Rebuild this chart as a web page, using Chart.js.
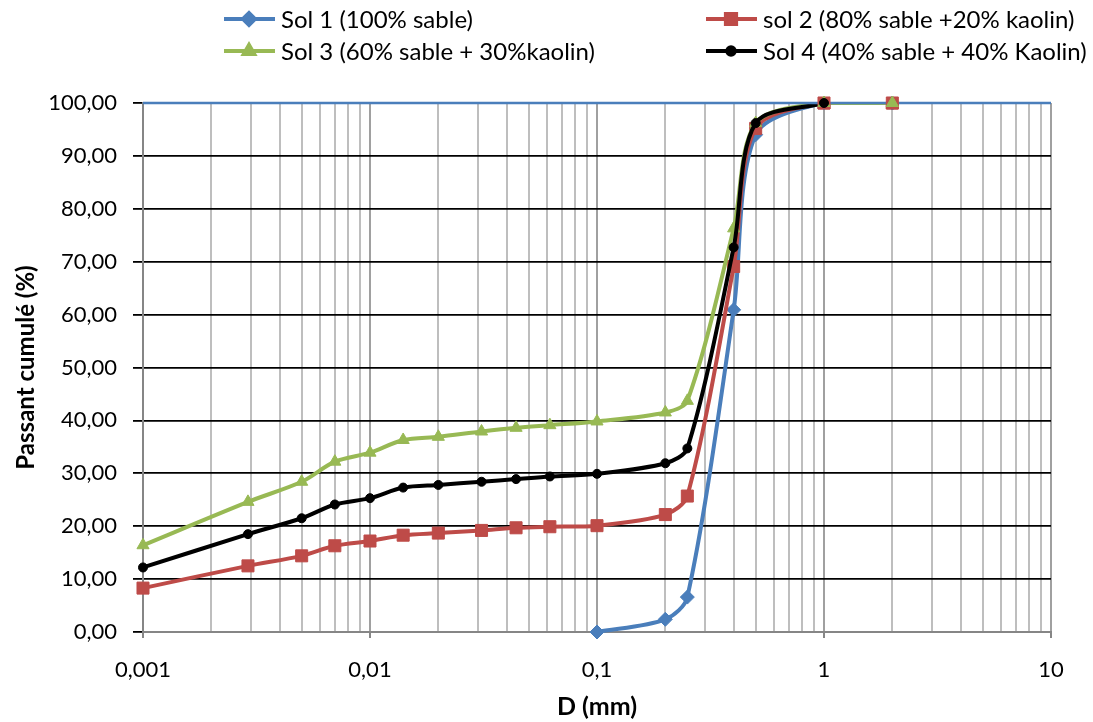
<!DOCTYPE html>
<html>
<head>
<meta charset="utf-8">
<script src="https://cdn.jsdelivr.net/npm/chart.js@4.4.0/dist/chart.umd.min.js"></script>
<style>
  html, body { margin: 0; padding: 0; background: #fff; }
  #wrap { width: 1093px; height: 722px; }
</style>
</head>
<body>
<div id="wrap"><canvas id="granuloChart" width="1093" height="722"></canvas></div>
<script>
// diamètres (mm) et passants cumulés (%)
const diamSol1 = [0.1, 0.2, 0.25, 0.4, 0.5, 1, 2];
const sol1 = [0, 2.4, 6.6, 60.9, 94.0, 100, 100];

const diamSol23 = [0.001, 0.0029, 0.005, 0.007, 0.01, 0.014, 0.02, 0.031, 0.044, 0.062, 0.1, 0.2, 0.25, 0.4, 0.5, 1, 2];
const sol2 = [8.3, 12.5, 14.4, 16.3, 17.2, 18.3, 18.7, 19.2, 19.7, 19.9, 20.1, 22.2, 25.7, 69.1, 95.2, 100, 100];
const sol3 = [16.4, 24.6, 28.4, 32.2, 33.9, 36.3, 36.9, 37.9, 38.6, 39.1, 39.8, 41.5, 43.7, 76.3, 96.2, 100, 100];

const diamSol4 = [0.001, 0.0029, 0.005, 0.007, 0.01, 0.014, 0.02, 0.031, 0.044, 0.062, 0.1, 0.2, 0.25, 0.4, 0.5, 1];
const sol4 = [12.2, 18.5, 21.5, 24.1, 25.3, 27.3, 27.8, 28.4, 28.9, 29.4, 29.9, 31.9, 34.7, 72.7, 96.2, 100];

const seriesLabels = [
    'Sol 1 (100% sable)',
    'sol 2 (80% sable +20% kaolin)',
    'Sol 3 (60% sable + 30%kaolin)',
    'Sol 4 (40% sable + 40% Kaolin)'
];

const xTickLabels = ['0,001', '0,01', '0,1', '1', '10'];
const xDecades = [0.001, 0.01, 0.1, 1, 10];

const FONT = 'Lato, "Open Sans", sans-serif';

const toPoints = (xs, ys) => xs.map((x, i) => ({ x: x, y: ys[i] }));

// grille log : 1..9 par décade
const xGrid = [];
xDecades.forEach((d, i) => {
    if (i === xDecades.length - 1) { xGrid.push(d); return; }
    for (let s = 1; s <= 9; s++) xGrid.push(+(s * d).toPrecision(6));
});

const isDecade = v => xDecades.some(d => Math.abs(v - d) / d < 1e-6);

// bord haut bleu par-dessus les courbes, puis les marqueurs posés sur ce bord
const topEdgePlugin = {
    id: 'topEdge',
    afterDatasetsDraw(chart) {
        const { ctx, chartArea } = chart;
        ctx.save();
        ctx.strokeStyle = '#4a7ebb';
        ctx.lineWidth = 2.5;
        ctx.beginPath();
        ctx.moveTo(chartArea.left, chartArea.top);
        ctx.lineTo(chartArea.right, chartArea.top);
        ctx.stroke();
        const bigArea = { left: 0, top: 0, right: chart.width, bottom: chart.height };
        chart.data.datasets.forEach((ds, i) => {
            chart.getDatasetMeta(i).data.forEach(pt => {
                if (pt.y <= chartArea.top + 1) pt.draw(ctx, bigArea);
            });
        });
        ctx.restore();
    }
};

const legendPlugin = {
    id: 'twoColLegend',
    afterDraw(chart) {
        const ctx = chart.ctx;
        const cols = [224, 706];
        const rows = [19, 51];
        chart.data.datasets.forEach((ds, i) => {
            const x = cols[i % 2];
            const y = rows[Math.floor(i / 2)];
            ctx.save();
            ctx.strokeStyle = ds.borderColor;
            ctx.lineWidth = 4;
            ctx.beginPath();
            ctx.moveTo(x, y);
            ctx.lineTo(x + 51, y);
            ctx.stroke();
            ctx.fillStyle = ds.borderColor;
            Chart.helpers.drawPoint(ctx, {
                pointStyle: ds.pointStyle,
                radius: ds.pointRadius * 0.85,
                borderWidth: 1,
                rotation: 0
            }, x + 25, y);
            ctx.fillStyle = '#000';
            ctx.font = '24px ' + FONT;
            ctx.textBaseline = 'middle';
            ctx.fillText(ds.label, x + 57, y + 1);
            ctx.restore();
        });
    }
};

const ctx = document.getElementById('granuloChart').getContext('2d');
new Chart(ctx, {
    type: 'line',
    data: {
        datasets: [
            {
                label: seriesLabels[0],
                data: toPoints(diamSol1, sol1),
                borderColor: '#4a7ebb',
                backgroundColor: '#4a7ebb',
                pointStyle: 'rectRot',
                pointRadius: 7,
                order: 3
            },
            {
                label: seriesLabels[1],
                data: toPoints(diamSol23, sol2),
                borderColor: '#be4b48',
                backgroundColor: '#be4b48',
                pointStyle: 'rect',
                pointRadius: 8.5,
                order: 2
            },
            {
                label: seriesLabels[2],
                data: toPoints(diamSol23, sol3),
                borderColor: '#98b954',
                backgroundColor: '#98b954',
                pointStyle: 'triangle',
                pointRadius: 7,
                order: 1
            },
            {
                label: seriesLabels[3],
                data: toPoints(diamSol4, sol4),
                borderColor: '#000000',
                backgroundColor: '#000000',
                pointStyle: 'circle',
                pointRadius: 4.5,
                order: 0
            }
        ]
    },
    options: {
        responsive: false,
        animation: false,
        datasets: {
            line: {
                borderWidth: 4,
                tension: 0.3,
                pointBorderWidth: 1,
                clip: { left: false, top: 0, right: false, bottom: false }
            }
        },
        layout: {
            padding: { top: 103, right: 42, left: 0, bottom: 0 }
        },
        plugins: {
            legend: { display: false },
            tooltip: { enabled: false }
        },
        scales: {
            x: {
                type: 'logarithmic',
                min: 0.001,
                max: 10,
                afterBuildTicks: scale => {
                    scale.ticks = xGrid.map(v => ({ value: v, major: isDecade(v) }));
                },
                afterFit: scale => { scale.height = 90; },
                grid: {
                    color: c => isDecade(c.tick.value) ? '#a0a0a0' : '#bebebe',
                    lineWidth: 2,
                    tickColor: c => isDecade(c.tick.value) ? '#868686' : 'rgba(0,0,0,0)',
                    tickLength: 6
                },
                border: { color: '#868686', width: 2 },
                ticks: {
                    autoSkip: false,
                    maxRotation: 0,
                    color: '#000',
                    padding: 19,
                    font: { family: FONT, size: 22 },
                    callback: value => {
                        const k = xDecades.findIndex(d => Math.abs(value - d) / d < 1e-6);
                        return k >= 0 ? xTickLabels[k] : '';
                    }
                },
                title: {
                    display: true,
                    text: 'D (mm)',
                    color: '#000',
                    font: { family: FONT, size: 25, weight: 'bold' },
                    padding: { top: 0, bottom: 0 }
                }
            },
            y: {
                min: 0,
                max: 100,
                afterFit: scale => { scale.width = 143; },
                grid: {
                    color: c => c.tick.value === 0 ? '#868686' : '#000',
                    lineWidth: 1.8,
                    tickColor: '#000',
                    tickLength: 10
                },
                border: { color: '#868686', width: 2 },
                ticks: {
                    stepSize: 10,
                    color: '#000',
                    padding: 16,
                    font: { family: FONT, size: 22 },
                    callback: value => value.toFixed(2).replace('.', ',')
                },
                title: {
                    display: true,
                    text: 'Passant cumulé (%)',
                    color: '#000',
                    font: { family: FONT, size: 24, weight: 'bold' },
                    padding: { top: 12, bottom: 0 }
                }
            }
        }
    },
    plugins: [topEdgePlugin, legendPlugin]
});
</script>
</body>
</html>
